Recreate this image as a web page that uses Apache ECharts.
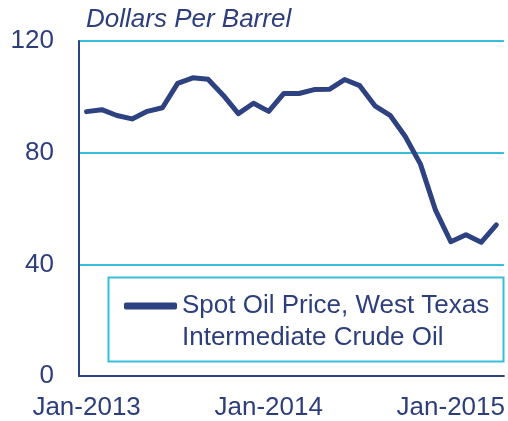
<!DOCTYPE html>
<html>
<head>
<meta charset="utf-8">
<script src="https://cdn.jsdelivr.net/npm/echarts@6/dist/echarts.min.js"></script>
<style>
  html, body { margin: 0; padding: 0; background: #fff; }
  #chart { width: 508px; height: 421px; }
</style>
</head>
<body>
<div id="chart"></div>
<script>
// monthly categories, Jan-2013 .. Apr-2015
var months = ['Jan-2013','Feb-2013','Mar-2013','Apr-2013','May-2013','Jun-2013',
  'Jul-2013','Aug-2013','Sep-2013','Oct-2013','Nov-2013','Dec-2013',
  'Jan-2014','Feb-2014','Mar-2014','Apr-2014','May-2014','Jun-2014',
  'Jul-2014','Aug-2014','Sep-2014','Oct-2014','Nov-2014','Dec-2014',
  'Jan-2015','Feb-2015','Mar-2015','Apr-2015'];

// WTI spot price, dollars per barrel
var wtiPrice = [94.7, 95.4, 93.3, 92.1, 94.8, 96.1, 104.8, 106.8, 106.3, 100.6, 94.0, 97.7,
  94.8, 101.2, 101.2, 102.6, 102.7, 106.2, 104.0, 96.8, 93.4, 85.8, 75.9, 59.3,
  48.1, 50.6, 47.9, 54.1];

var seriesName = 'Spot Oil Price, West Texas\nIntermediate Crude Oil';
var yTicks = [0, 40, 80, 120];

var navy = '#2e4180';
var textColor = '#2d3e7c';
var cyan = '#38bedb';
var font = 'Liberation Sans, Arial, sans-serif';

var myChart = echarts.init(document.getElementById('chart'));

var option = {
    animation: false,
    title: {
        text: 'Dollars Per Barrel',
        left: 86,
        top: 7,
        padding: 0,
        textStyle: { color: textColor, fontSize: 26, fontStyle: 'italic', fontWeight: 'normal', fontFamily: font }
    },
    grid: { left: 79, right: 4, top: 41, bottom: 45 },
    legend: {
        left: 124,
        top: 258,
        padding: 0,
        icon: 'roundRect',
        itemWidth: 53,
        itemHeight: 7,
        itemGap: 0,
        data: [seriesName],
        // blank first line so the icon sits level with the first text line
        formatter: function (name) { return '\n' + name; },
        textStyle: { color: textColor, fontSize: 26, lineHeight: 32, fontFamily: font }
    },
    // legend frame
    graphic: [{
        type: 'rect',
        shape: { x: 108.5, y: 277.5, width: 395, height: 84 },
        style: { fill: 'none', stroke: cyan, lineWidth: 2 },
        silent: true
    }],
    xAxis: {
        type: 'category',
        data: months,
        boundaryGap: true,
        axisLine: { lineStyle: { color: navy, width: 2 } },
        axisTick: { interval: 11, length: 6, lineStyle: { color: navy, width: 2 } },
        axisLabel: { interval: 11, margin: 19, color: textColor, fontSize: 26, fontFamily: font }
    },
    yAxis: {
        type: 'value',
        min: yTicks[0],
        max: yTicks[yTicks.length - 1],
        interval: 40,
        axisLine: { show: true, lineStyle: { color: navy, width: 2 } },
        axisTick: { show: false },
        axisLabel: { margin: 25, color: textColor, fontSize: 26, fontFamily: font },
        splitLine: { lineStyle: { color: cyan, width: 2 } }
    },
    series: [{
        name: seriesName,
        type: 'line',
        data: wtiPrice,
        symbol: 'none',
        color: navy,
        lineStyle: { width: 5, color: navy, cap: 'round', join: 'round' }
    }]
};

myChart.setOption(option);
</script>
</body>
</html>
